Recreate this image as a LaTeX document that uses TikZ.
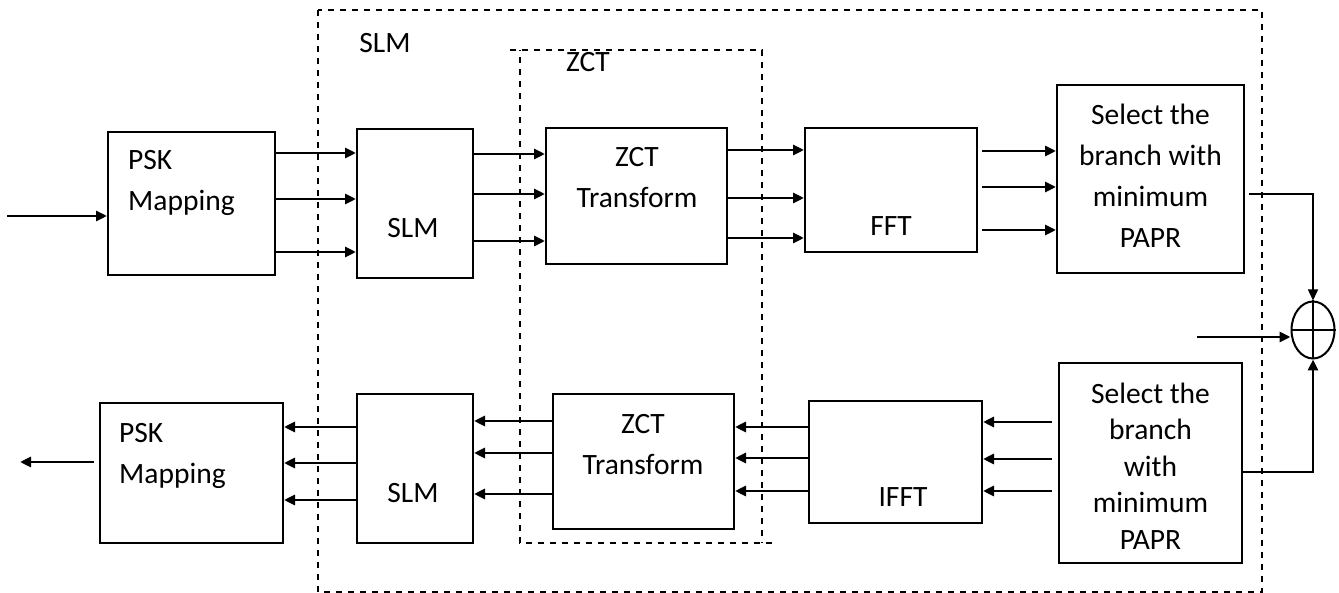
\documentclass[tikz,border=0pt]{standalone}
\usepackage{fontspec}
\setmainfont{Carlito}
\usetikzlibrary{arrows.meta,shapes.geometric}

\tikzset{
  blk/.style={draw, line width=2pt, inner sep=0pt},
  txt/.style={inner sep=0pt, font=\fontsize{29.5}{41}\selectfont},
  arr/.style={line width=2.8pt, -{Triangle[length=11pt,width=10pt]}},
  dashbox/.style={line width=1.7pt, dash pattern=on 6pt off 6pt}
}

\begin{document}
\begin{tikzpicture}[x=1pt,y=-1pt]
			\useasboundingbox (0,0) rectangle (1339,593);

			% Dashed frames
			\draw[dashbox] (318,10) rectangle (1262,592);
			\draw[dashbox] (510,50) -- (762,50) -- (762,543);
			\draw[dashbox] (772,543) -- (520,543) -- (520,50);
			\node[txt] (slmlbl) at (385,43) {SLM};
			\node[txt] (zctlbl) at (588,62) {ZCT};

			% Transmitter row
			\node[blk, minimum width=167, minimum height=143] (psk1) at (191.5,203.5) {};
			\node[txt, align=left, anchor=west] (psk1t) at (128,183) {PSK\\Mapping};
			\node[blk, minimum width=116, minimum height=149] (slm1) at (415,203.5) {};
			\node[txt] (slm1t) at (413,228) {SLM};
			\node[blk, minimum width=181, minimum height=136] (zct1) at (636.5,196) {};
			\node[txt, align=center] (zct1t) at (637,178) {ZCT\\Transform};
			\node[blk, minimum width=172, minimum height=124] (fft) at (891,190) {};
			\node[txt] (fftt) at (891,226) {FFT};
			\node[blk, minimum width=187, minimum height=188] (sel1) at (1150.5,179) {};
			\node[txt, align=center] (sel1t) at (1150.5,176) {Select the\\branch with\\minimum\\PAPR};

			% Receiver row
			\node[blk, minimum width=183, minimum height=140] (psk2) at (191.5,473) {};
			\node[txt, align=left, anchor=west] (psk2t) at (119,456) {PSK\\Mapping};
			\node[blk, minimum width=116, minimum height=149] (slm2) at (415,468.5) {};
			\node[txt] (slm2t) at (413,493) {SLM};
			\node[blk, minimum width=181, minimum height=135] (zct2) at (643.5,461.5) {};
			\node[txt, align=center] (zct2t) at (643,445) {ZCT\\Transform};
			\node[blk, minimum width=173, minimum height=122] (ifft) at (895.5,462) {};
			\node[txt] (ifftt) at (903,497) {IFFT};
			\node[blk, minimum width=183, minimum height=200] (sel2) at (1150.5,463) {};
			\node[txt, align=center, font=\fontsize{29.5}{36.5}\selectfont] (sel2t) at (1150.5,466) {Select the\\branch\\with\\minimum\\PAPR};

			% Adder
			\node[blk, ellipse, minimum width=43, minimum height=57] (sum) at (1313,330) {};
			\draw[line width=2pt] (sum.north) -- (sum.south) (sum.west) -- (sum.east);

			% Input and output
			\coordinate (in) at (7,216);
			\coordinate (out) at (20,462);
			\coordinate (ext) at (1197,337);
			\draw[arr] (in) -- (in -| psk1.west);
			\draw[arr] (psk2.west |- out) ++(-5,0) -- (out);

			% PSK -> SLM
			\draw[arr] (psk1.east |- 0,153) -- (slm1.west |- 0,153);
			\draw[arr] (psk1.east |- 0,199) -- (slm1.west |- 0,199);
			\draw[arr] (psk1.east |- 0,252) -- (slm1.west |- 0,252);

			% SLM -> ZCT
			\draw[arr] (slm1.east |- 0,154) -- (zct1.west |- 0,154);
			\draw[arr] (slm1.east |- 0,194) -- (zct1.west |- 0,194);
			\draw[arr] (slm1.east |- 0,241) -- (zct1.west |- 0,241);

			% ZCT -> FFT
			\draw[arr] (zct1.east |- 0,150) -- (fft.west |- 0,150);
			\draw[arr] (zct1.east |- 0,198) -- (fft.west |- 0,198);
			\draw[arr] (zct1.east |- 0,238) -- (fft.west |- 0,238);

			% FFT -> selection
			\draw[arr] (fft.east |- 0,151) ++(4,0) -- (sel1.west |- 0,151);
			\draw[arr] (fft.east |- 0,187) ++(4,0) -- (sel1.west |- 0,187);
			\draw[arr] (fft.east |- 0,230) ++(4,0) -- (sel1.west |- 0,230);

			% selection -> IFFT
			\draw[arr] (sel2.west |- 0,422) ++(-6,0) -- (ifft.east |- 0,422);
			\draw[arr] (sel2.west |- 0,459) ++(-6,0) -- (ifft.east |- 0,459);
			\draw[arr] (sel2.west |- 0,491) ++(-6,0) -- (ifft.east |- 0,491);

			% IFFT -> ZCT
			\draw[arr] (ifft.west |- 0,427) -- (zct2.east |- 0,427);
			\draw[arr] (ifft.west |- 0,458) -- (zct2.east |- 0,458);
			\draw[arr] (ifft.west |- 0,491) -- (zct2.east |- 0,491);

			% ZCT -> SLM
			\draw[arr] (zct2.west |- 0,421) -- (slm2.east |- 0,421);
			\draw[arr] (zct2.west |- 0,453) -- (slm2.east |- 0,453);
			\draw[arr] (zct2.west |- 0,494) -- (slm2.east |- 0,494);

			% SLM -> PSK
			\draw[arr] (slm2.west |- 0,427) -- (psk2.east |- 0,427);
			\draw[arr] (slm2.west |- 0,463) -- (psk2.east |- 0,463);
			\draw[arr] (slm2.west |- 0,500) -- (psk2.east |- 0,500);

			% Into the adder
			\draw[arr, line width=1.5pt] (sel1.east |- 0,194) ++(4,0) -| (sum.north);
			\draw[arr] (sel2.east |- 0,472) -| (sum.south);
			\draw[arr] (ext) -- (ext -| sum.west);
		\end{tikzpicture}
\end{document}
